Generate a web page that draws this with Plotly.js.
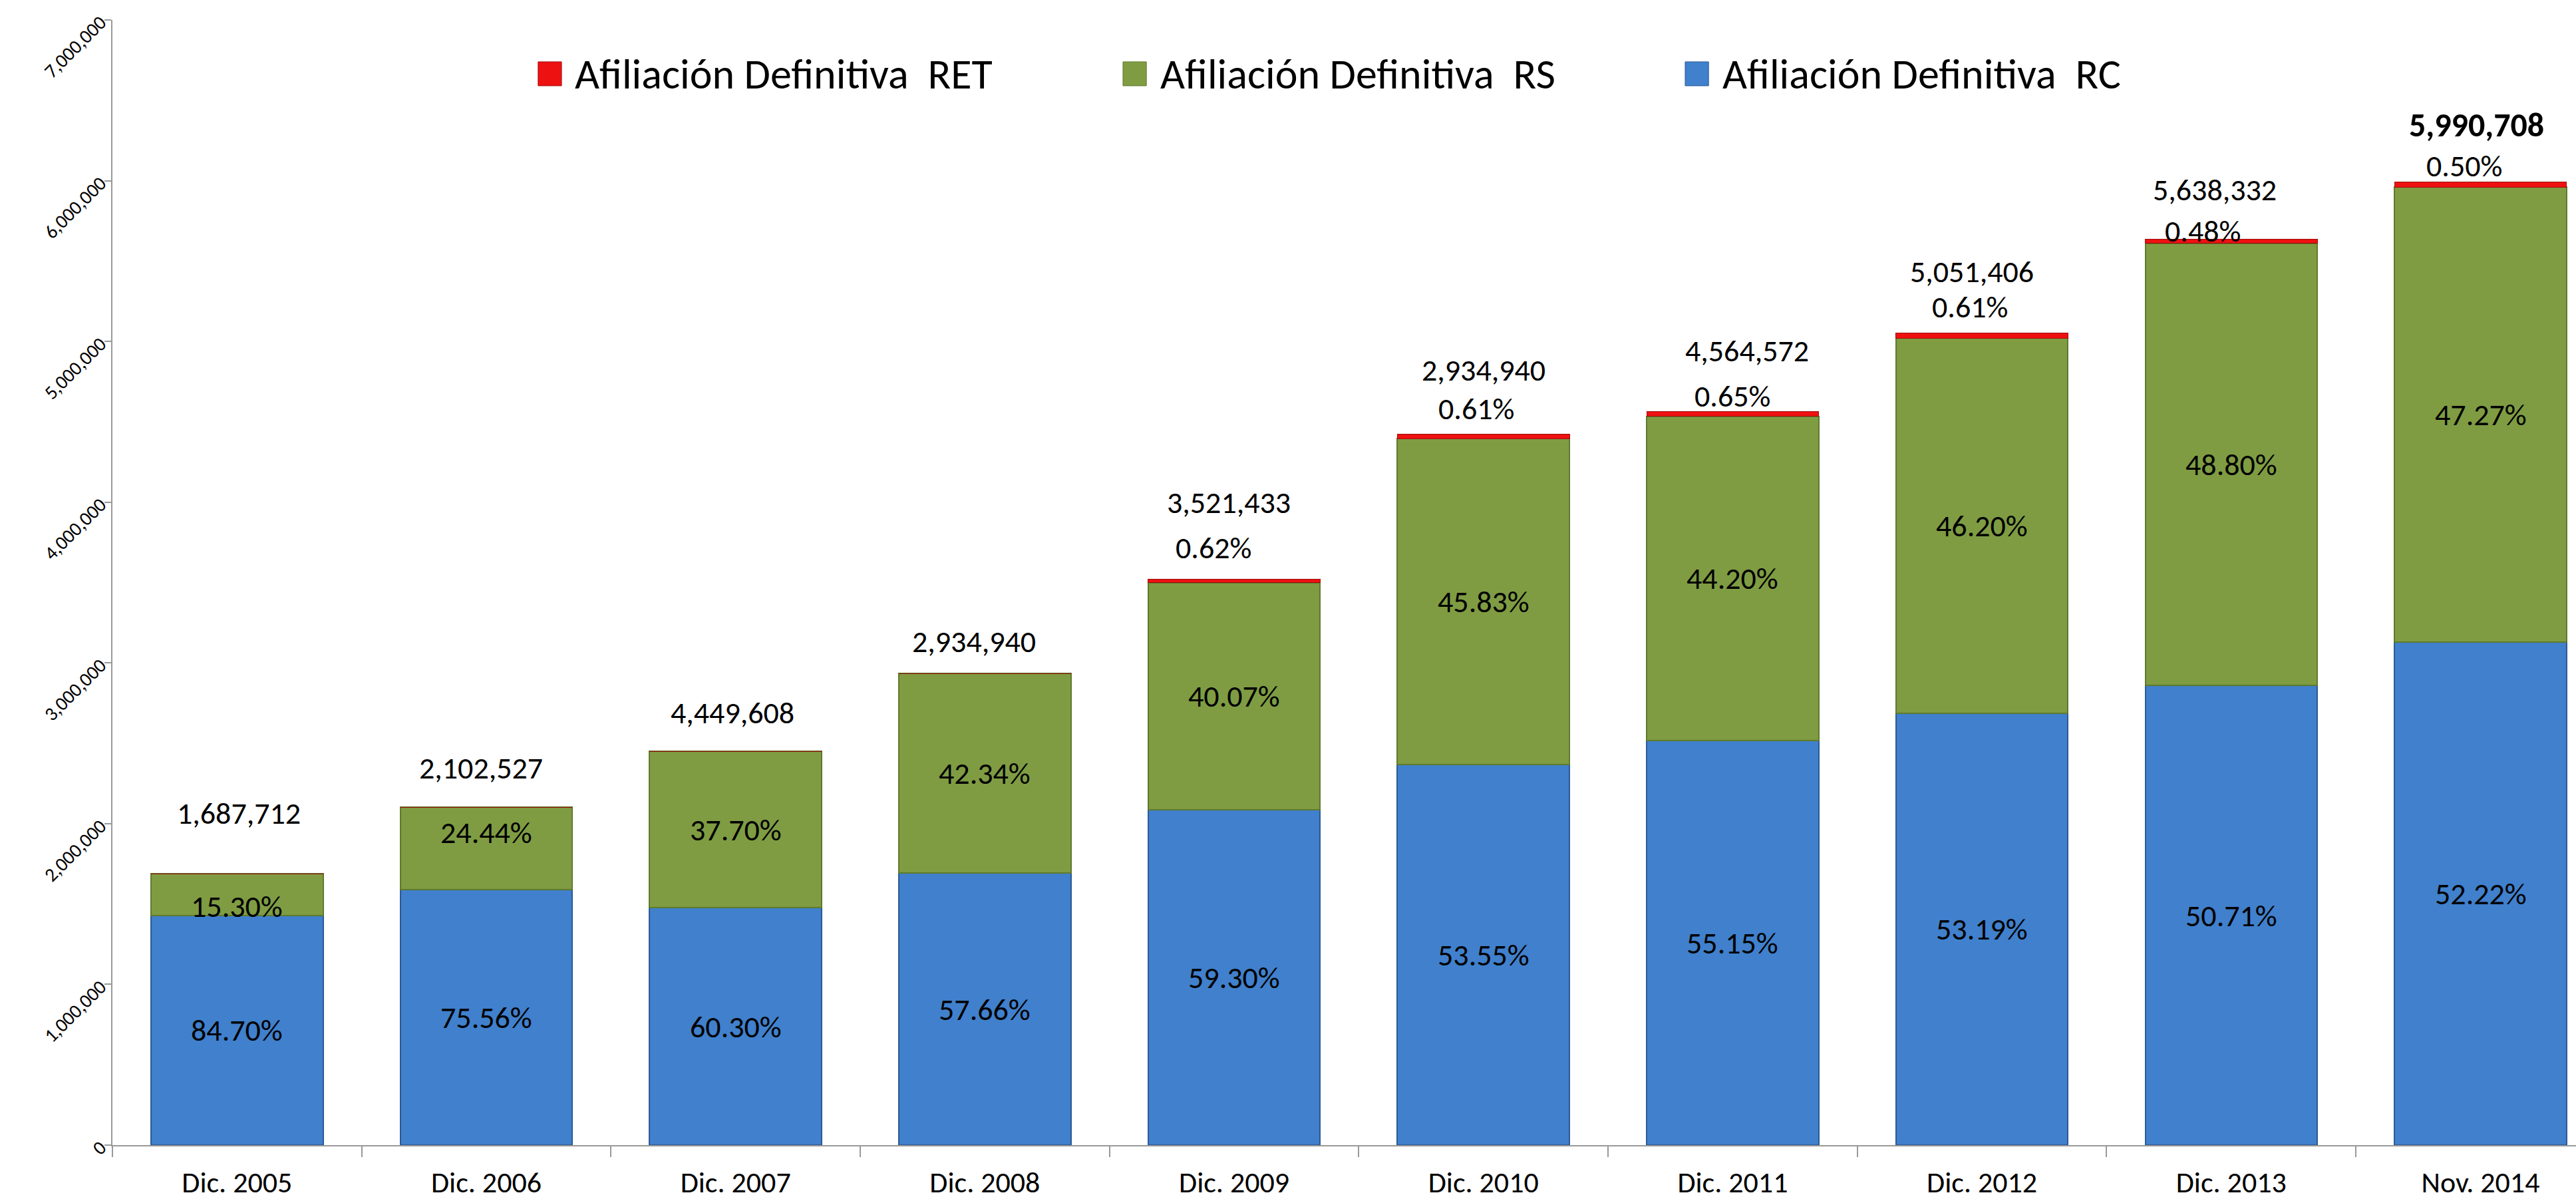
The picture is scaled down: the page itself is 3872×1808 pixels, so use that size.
<!DOCTYPE html>
<html>
<head>
<meta charset="utf-8">
<script src="https://cdn.plot.ly/plotly-3.0.1.min.js"></script>
<style>html,body{margin:0;padding:0;background:#fff;}#chart{width:3872px;height:1808px;}</style>
</head>
<body>
<div id="chart"></div>
<script>
// ---- data ----
const categories = ['Dic. 2005','Dic. 2006','Dic. 2007','Dic. 2008','Dic. 2009','Dic. 2010','Dic. 2011','Dic. 2012','Dic. 2013','Nov. 2014'];
const rcValues  = [1429492, 1588669, 1477000, 1692286, 2088210, 2368000, 2517361, 2686843, 2859198, 3128348];
const rsValues  = [258220, 513858, 972608, 1242654, 1411038, 2027000, 2017541, 2333750, 2751506, 2831808];
const retValues = [0, 0, 0, 0, 21833, 27000, 29670, 30814, 27064, 29954];
const pctRC  = ['84.70%','75.56%','60.30%','57.66%','59.30%','53.55%','55.15%','53.19%','50.71%','52.22%'];
const pctRS  = ['15.30%','24.44%','37.70%','42.34%','40.07%','45.83%','44.20%','46.20%','48.80%','47.27%'];
const pctRET = ['','','','','0.62%','0.61%','0.65%','0.61%','0.48%','0.50%'];
const totalLabels = ['1,687,712','2,102,527','4,449,608','2,934,940','3,521,433','2,934,940','4,564,572','5,051,406','5,638,332','5,990,708'];
const seriesNames = ['Afiliación Definitiva  RC','Afiliación Definitiva  RS','Afiliación Definitiva  RET'];
const yTicks = [0,1000000,2000000,3000000,4000000,5000000,6000000,7000000];

// ---- label placement (pixels, styling only) ----
const totalYShift = [91,59,58,48,115,97,91,93,74,86];
const totalXShift = [3,-8,-5,-16,-8,0,22,-15,-25,-6];
const retYShift   = [0,0,0,0,47,39,23,40,12,25];
const retXShift   = [0,0,0,0,-31,-11,0,-18,-43,-25];
const rsYShift    = [-18,24,0,0,0,0,0,0,0,0];

const FONT = 'Carlito, Calibri, Lato, "Open Sans", sans-serif';
const colors = {rc:'#4080cc', rs:'#7f9c43', ret:'#ee1111'};
const lines  = {rc:'#2d5a96', rs:'#5f7a2c', ret:'#a00d0d'};

const traces = [
  {type:'bar', name:seriesNames[0], x:categories, y:rcValues,
   marker:{color:colors.rc, line:{color:lines.rc, width:2}}, showlegend:false, hoverinfo:'x+y+name'},
  {type:'bar', name:seriesNames[1], x:categories, y:rsValues,
   marker:{color:colors.rs, line:{color:lines.rs, width:2}}, showlegend:false, hoverinfo:'x+y+name'},
  {type:'bar', name:seriesNames[2], x:categories, y:retValues,
   marker:{color:colors.ret, line:{color:lines.ret, width:1}}, showlegend:false, hoverinfo:'x+y+name'}
];

const annotations = [];
const lblFont = {family:FONT, size:46, color:'#000'};
categories.forEach((c,i) => {
  const rc = rcValues[i], rs = rsValues[i], ret = retValues[i];
  const top = rc + rs + ret;
  annotations.push({x:c, y:rc/2, text:pctRC[i], showarrow:false, font:lblFont, xanchor:'center', yanchor:'middle'});
  annotations.push({x:c, y:rc+rs/2, text:pctRS[i], showarrow:false, font:lblFont, xanchor:'center', yanchor:'middle', yshift:rsYShift[i]});
  if (pctRET[i]) {
    annotations.push({x:c, y:top, text:pctRET[i], showarrow:false, font:lblFont, xanchor:'center', yanchor:'middle', yshift:retYShift[i], xshift:retXShift[i]});
  }
  const isLast = i === categories.length - 1;
  annotations.push({x:c, y:top, text:isLast ? '<b>'+totalLabels[i]+'</b>' : totalLabels[i], showarrow:false,
    font:{family:FONT, size:isLast?50:46, color:'#000'}, xanchor:'center', yanchor:'middle',
    yshift:totalYShift[i], xshift:totalXShift[i]});
});

// ---- custom legend (order RET, RS, RC) ----
const legendItems = [
  {name:seriesNames[2], color:colors.ret, line:lines.ret, x0:0.1728, tx:0.1872},
  {name:seriesNames[1], color:colors.rs,  line:lines.rs,  x0:0.4102, tx:0.4248},
  {name:seriesNames[0], color:colors.rc,  line:lines.rc,  x0:0.6384, tx:0.6530}
];
const shapes = [];
legendItems.forEach(it => {
  shapes.push({type:'rect', xref:'paper', yref:'paper', x0:it.x0, x1:it.x0+0.0095, y0:0.9415, y1:0.9628,
    fillcolor:it.color, line:{color:it.line, width:1}});
  annotations.push({xref:'paper', yref:'paper', x:it.tx, y:0.9521, text:it.name, showarrow:false,
    xanchor:'left', yanchor:'middle', font:{family:FONT, size:64, color:'#000'}});
});

const layout = {
  width:3872, height:1808,
  margin:{l:169, r:0, t:30, b:87, pad:0},
  paper_bgcolor:'#fff', plot_bgcolor:'#fff',
  barmode:'stack', bargap:0.31,
  font:{family:FONT, color:'#000'},
  xaxis:{type:'category', range:[-0.5, 9.383], showgrid:false, zeroline:false,
    showline:true, linecolor:'#999', linewidth:2,
    ticks:'outside', tickson:'boundaries', ticklen:16, tickcolor:'#999', tickwidth:2,
    tickfont:{family:FONT, size:44, color:'#000'}, ticklabelstandoff:16, fixedrange:true},
  yaxis:{range:[0,7000000], tickvals:yTicks, tickformat:',d', tickangle:-45, showgrid:false, zeroline:false,
    showline:true, linecolor:'#999', linewidth:2,
    ticks:'outside', ticklen:10, tickcolor:'#999', tickwidth:2,
    tickfont:{family:FONT, size:29, color:'#000'}, fixedrange:true},
  annotations:annotations,
  shapes:shapes,
  showlegend:false
};

Plotly.newPlot('chart', traces, layout, {staticPlot:true, displayModeBar:false});
</script>
</body>
</html>
